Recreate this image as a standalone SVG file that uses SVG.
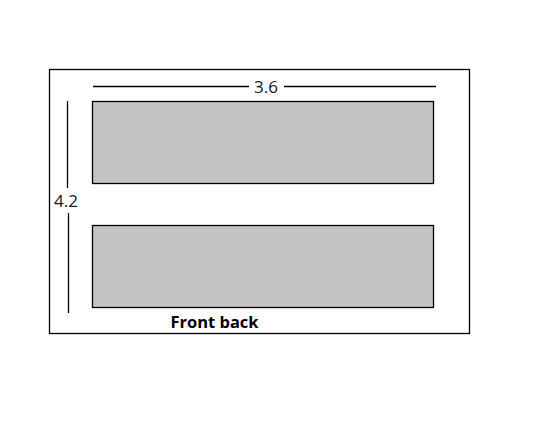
<svg xmlns="http://www.w3.org/2000/svg" width="538" height="422" viewBox="0 0 538 422">
<style>
.ln{stroke:#000;stroke-width:1.3;fill:none}
.panel{fill:#c3c3c3;stroke:#000;stroke-width:1.3}
.lbl{font-family:"Open Sans","Liberation Sans",sans-serif;font-size:17px;fill:#141428}
.ttl{font-family:"Open Sans","Liberation Sans",sans-serif;font-size:16.5px;font-weight:bold;fill:#000}
</style>
<rect width="538" height="422" fill="#fff"/>
<g id="frame"><rect class="ln" x="49.5" y="69.5" width="420" height="264"/></g>
<g id="panel-top"><rect class="panel" x="92.5" y="101.5" width="341" height="82"/></g>
<g id="panel-bottom"><rect class="panel" x="92.5" y="225.5" width="341" height="82"/></g>
<g id="connectors">
<line class="ln" x1="93" y1="86.5" x2="249" y2="86.5"/>
<line class="ln" x1="284" y1="86.5" x2="436" y2="86.5"/>
<line class="ln" x1="67.5" y1="101" x2="67.5" y2="188"/>
<line class="ln" x1="68.5" y1="213" x2="68.5" y2="313"/>
</g>
<g id="labels">
<text class="lbl" x="266" y="93" text-anchor="middle">3.6</text>
<text class="lbl" x="66" y="207" text-anchor="middle">4.2</text>
<text class="ttl" x="214.5" y="327.5" text-anchor="middle">Front back</text>
</g>
</svg>
